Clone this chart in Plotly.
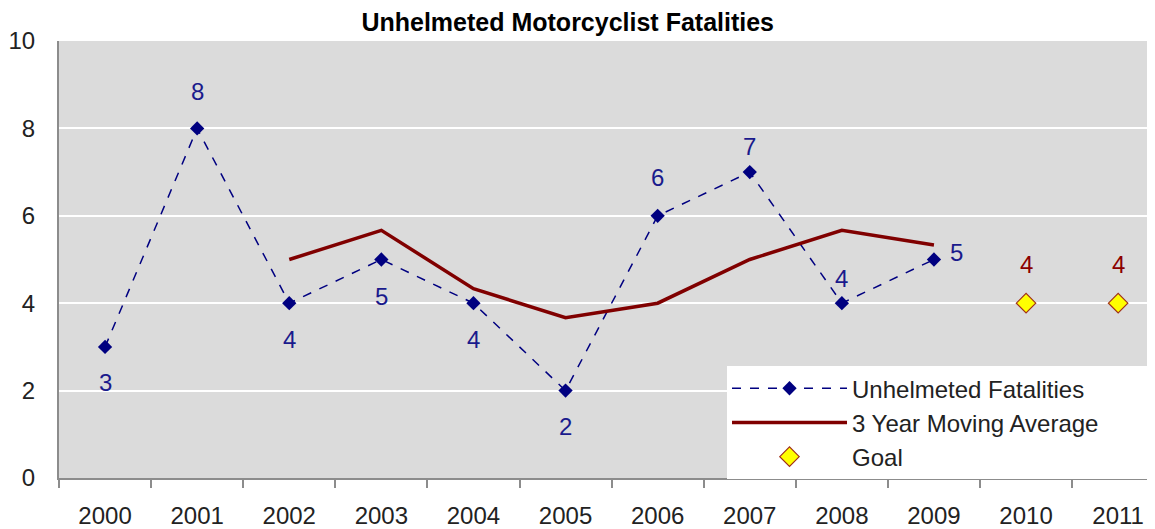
import plotly.graph_objects as go

years = ["2000", "2001", "2002", "2003", "2004", "2005", "2006", "2007", "2008", "2009", "2010", "2011"]
fatal_years = years[:10]
fatalities = [3, 8, 4, 5, 4, 2, 6, 7, 4, 5]
ma_years = years[2:10]
moving_avg = [5.0, 5.667, 4.333, 3.667, 4.0, 5.0, 5.667, 5.333]
goal_years = ["2010", "2011"]
goal = [4, 4]

# label placement (pixel offsets) for fatality labels
label_shift = [(0, -36), (0, 37), (0, -36), (0, -37), (0, -36), (0, -36),
               (0, 38), (0, 26), (0, 25), (23, 7)]

FONT = "Liberation Sans, Arial, sans-serif"
NAVY = "#000080"
DARKRED = "#800000"
PAD = "\u00a0" * 7

fig = go.Figure()
fig.add_trace(go.Scatter(
    x=fatal_years, y=fatalities, mode="lines+markers", name="Unhelmeted Fatalities",
    line=dict(color=NAVY, width=1.5, dash="dash"),
    marker=dict(symbol="diamond", size=11, color=NAVY),
))
fig.add_trace(go.Scatter(
    x=ma_years, y=moving_avg, mode="lines", name="3 Year Moving Average" + PAD,
    line=dict(color=DARKRED, width=3.5),
))
fig.add_trace(go.Scatter(
    x=goal_years, y=goal, mode="markers", name="Goal",
    marker=dict(symbol="diamond", size=15, color="#FFFF00", line=dict(color="#A0301A", width=1.2)),
))

for (yr, v), (dx, dy) in zip(zip(fatal_years, fatalities), label_shift):
    fig.add_annotation(x=years.index(yr), y=v, text=str(v), showarrow=False, xshift=dx, yshift=dy,
                       font=dict(family=FONT, size=24, color="#1A1A8C"))
for yr, v in zip(goal_years, goal):
    fig.add_annotation(x=years.index(yr), y=v, text=str(v), showarrow=False, yshift=39,
                       font=dict(family=FONT, size=24, color="#8B0000"))

fig.update_layout(
    width=1147, height=521,
    margin=dict(l=51, r=0, t=33, b=51, autoexpand=False),
    paper_bgcolor="white", plot_bgcolor="#DBDBDB",
    title=dict(text="<b>Unhelmeted Motorcyclist Fatalities</b>", x=0.488, xanchor="center",
               y=0.973, yanchor="middle", font=dict(family=FONT, size=25, color="black")),
    font=dict(family=FONT, size=24, color="#222222"),
    showlegend=True,
    legend=dict(x=0.6095, xanchor="left", y=0.256, yanchor="top", bgcolor="white",
                font=dict(family=FONT, size=24, color="#222222"),
                itemwidth=115, tracegroupgap=0, borderwidth=0),
)
fig.update_xaxes(type="category", categoryorder="array", categoryarray=years,
                 range=[-0.5, 11.4], showgrid=False, showline=True, linecolor="#8C8C8C",
                 linewidth=2, ticks="outside", tickson="boundaries", ticklen=8,
                 tickcolor="#8C8C8C", tickwidth=2, ticklabelstandoff=15, automargin=False,
                 tickfont=dict(family=FONT, size=24, color="#222222"), zeroline=False)
fig.update_yaxes(range=[0, 10], dtick=2, showgrid=True, gridcolor="white", gridwidth=2,
                 showline=True, linecolor="#8C8C8C", linewidth=2, ticks="", automargin=False,
                 ticklabelstandoff=17, zeroline=False,
                 tickfont=dict(family=FONT, size=24, color="#222222"))

fig.write_html("out.html")
